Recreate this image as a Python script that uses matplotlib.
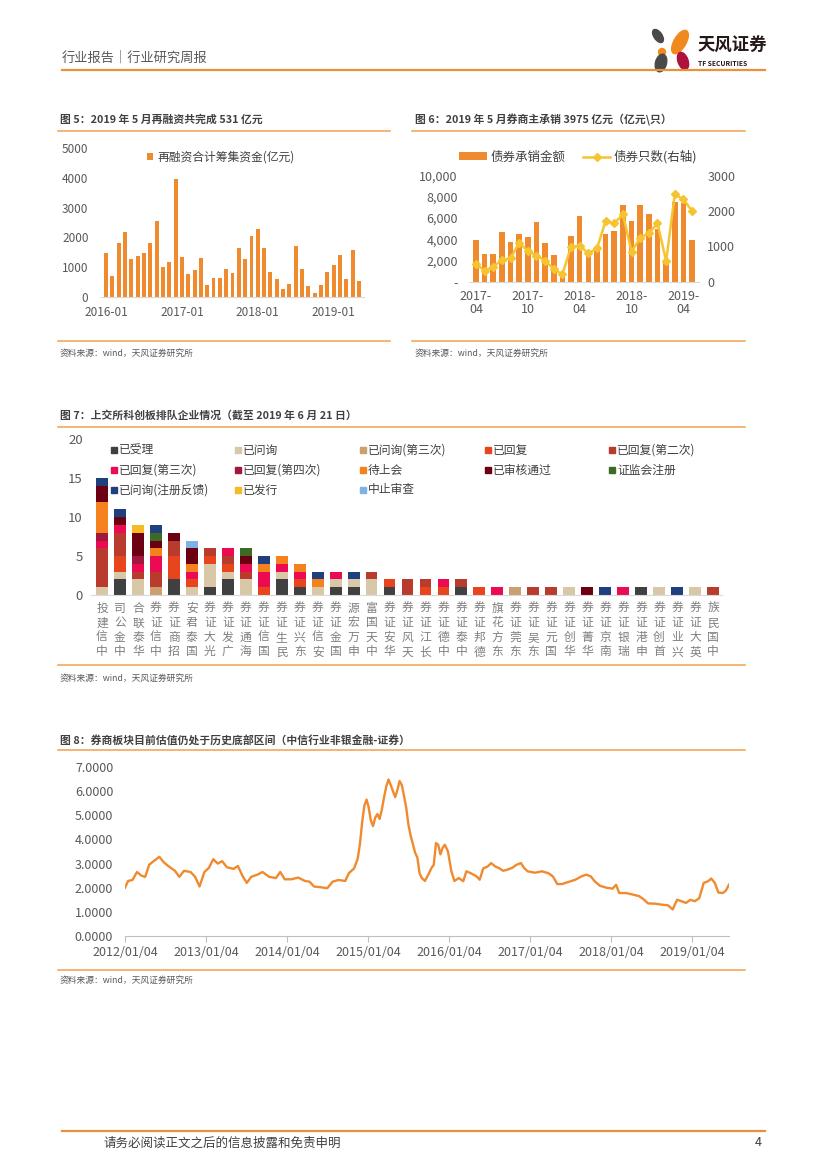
import numpy as np
import pandas as pd
import matplotlib
matplotlib.use('Agg')
import matplotlib.pyplot as plt
from matplotlib.patches import Ellipse, Rectangle

plt.rcParams['font.family'] = ['Noto Sans CJK SC', 'DejaVu Sans']
plt.rcParams['axes.unicode_minus'] = False

W, H = 827, 1170
ORANGE = '#F08A2E'
RULE = '#F0A04E'
GRAY = '#595959'
DARK = '#404040'

# 图5 再融资 (亿元), 2016-01 ~ 2019-05
refi_months = [f'{y}-{m:02d}' for y in range(2016, 2020) for m in range(1, 13)][:41]
refi_values = [1480, 720, 1800, 2170, 1270, 1380, 1480, 1800, 2560, 1000, 1180, 3970,
               1340, 790, 920, 1310, 400, 650, 650, 960, 820, 1650, 1270, 2040,
               2280, 1650, 850, 610, 290, 430, 1720, 960, 370, 160, 400, 860,
               1090, 1410, 610, 1590, 531]

# 图6 券商主承销, 2017-04 ~ 2019-05
uw_months = [f'{y}-{m:02d}' for y in range(2017, 2020) for m in range(1, 13)][3:29]
uw_amount = [3960, 2610, 2610, 4690, 3770, 4470, 4180, 5630, 3680, 2520, 500, 4340,
             6230, 2600, 3000, 4470, 4780, 7230, 5720, 7230, 6350, 4970, 2000, 7550,
             7390, 3975]
uw_count = [500, 310, 425, 613, 660, 1104, 868, 736, 594, 358, 208, 991,
            1019, 802, 943, 1717, 1651, 1906, 849, 1245, 1368, 1651, 585, 2472,
            2330, 2000]

# 图7 科创板排队
brokers = ['中信建投', '中金公司', '华泰联合', '中信证券', '招商证券', '国泰君安', '光大证券',
           '广发证券', '海通证券', '国信证券', '民生证券', '东兴证券', '安信证券', '国金证券',
           '申万宏源', '中天国富', '华安证券', '天风证券', '长江证券', '中德证券', '中泰证券',
           '德邦证券', '东方花旗', '东莞证券', '东吴证券', '国元证券', '华创证券', '华菁证券',
           '南京证券', '瑞银证券', '申港证券', '首创证券', '兴业证券', '英大证券', '中国民族']
status_names = ['已受理', '已问询', '已问询(第三次)', '已回复', '已回复(第二次)',
                '已回复(第三次)', '已回复(第四次)', '待上会', '已审核通过', '证监会注册',
                '已问询(注册反馈)', '已发行', '中止审查']
status_colors = ['#404040', '#D9C8A8', '#C9A06E', '#E8441E', '#B83B2E',
                 '#EC0B53', '#A3173F', '#F5821F', '#6B0012', '#3D6B25',
                 '#1F3F7F', '#F5BA24', '#7FB2E5']
status_counts = {
    '已受理': {1: 2, 4: 2, 6: 1, 7: 2, 10: 2, 11: 1, 13: 1, 14: 1, 16: 1, 20: 1, 30: 1},
    '已问询': {0: 1, 1: 1, 2: 2, 5: 1, 6: 3, 7: 1, 8: 2, 10: 1, 12: 1, 13: 1, 14: 1, 15: 2,
            26: 1, 31: 1, 33: 1},
    '已问询(第三次)': {3: 1, 23: 1},
    '已回复': {1: 2, 4: 3, 5: 1, 6: 1, 7: 1, 9: 1, 11: 1, 16: 1, 18: 1, 19: 1, 21: 1},
    '已回复(第二次)': {0: 5, 1: 3, 2: 1, 3: 2, 4: 2, 6: 1, 7: 1, 8: 1, 15: 1, 17: 2, 18: 1,
                  20: 1, 24: 1, 25: 1, 34: 1},
    '已回复(第三次)': {0: 1, 1: 1, 2: 1, 3: 2, 5: 1, 7: 1, 8: 1, 9: 2, 10: 1, 11: 1, 13: 1,
                  19: 1, 22: 1, 29: 1},
    '已回复(第四次)': {0: 1, 2: 1},
    '待上会': {0: 4, 3: 1, 5: 1, 9: 1, 10: 1, 11: 1, 12: 1},
    '已审核通过': {0: 2, 1: 1, 2: 3, 3: 1, 4: 1, 5: 2, 8: 1, 27: 1},
    '证监会注册': {3: 1, 8: 1},
    '已问询(注册反馈)': {0: 1, 1: 1, 3: 1, 9: 1, 12: 1, 14: 1, 28: 1, 32: 1},
    '已发行': {2: 1},
    '中止审查': {5: 1},
}

# 图8 券商板块PB
pb_dates = ['2012-01-04', '2012-01-18', '2012-02-07', '2012-02-27', '2012-03-18', '2012-04-04',
            '2012-04-22', '2012-05-12', '2012-06-07', '2012-06-27', '2012-07-17', '2012-08-16',
            '2012-09-05', '2012-09-26', '2012-10-26', '2012-11-15', '2012-12-05', '2012-12-27',
            '2013-01-16', '2013-02-05', '2013-02-25', '2013-03-17', '2013-04-07', '2013-05-07',
            '2013-05-27', '2013-06-16', '2013-07-06', '2013-07-26', '2013-08-25', '2013-09-15',
            '2013-10-15', '2013-11-14', '2013-12-04', '2013-12-24', '2014-01-24', '2014-02-23',
            '2014-03-25', '2014-04-15', '2014-05-05', '2014-06-04', '2014-07-04', '2014-07-28',
            '2014-08-23', '2014-09-23', '2014-10-09', '2014-11-02', '2014-11-18', '2014-11-28',
            '2014-12-08', '2014-12-18', '2014-12-28', '2015-01-06', '2015-01-16', '2015-01-26',
            '2015-02-05', '2015-02-15', '2015-02-25', '2015-03-07', '2015-03-17', '2015-03-27',
            '2015-04-06', '2015-04-16', '2015-04-26', '2015-05-06', '2015-05-16', '2015-05-26',
            '2015-06-05', '2015-06-15', '2015-06-25', '2015-07-05', '2015-07-15', '2015-07-25',
            '2015-08-04', '2015-08-14', '2015-08-24', '2015-09-03', '2015-09-17', '2015-10-03',
            '2015-10-17', '2015-10-27', '2015-11-06', '2015-11-16', '2015-11-26', '2015-12-06',
            '2015-12-16', '2015-12-30', '2016-01-14', '2016-01-28', '2016-02-17', '2016-03-08',
            '2016-03-22', '2016-04-11', '2016-05-07', '2016-05-21', '2016-06-06', '2016-06-26',
            '2016-07-12', '2016-07-30', '2016-08-15', '2016-09-04', '2016-09-24', '2016-10-14',
            '2016-11-03', '2016-11-23', '2016-12-07', '2016-12-23', '2017-01-26', '2017-02-25',
            '2017-03-27', '2017-04-16', '2017-05-06', '2017-05-26', '2017-06-26', '2017-07-26',
            '2017-08-25', '2017-09-14', '2017-10-04', '2017-10-20', '2017-11-14', '2017-12-14',
            '2018-01-10', '2018-01-26', '2018-02-09', '2018-03-11', '2018-04-10', '2018-05-10',
            '2018-05-30', '2018-06-19', '2018-07-19', '2018-08-18', '2018-09-17', '2018-10-08',
            '2018-10-28', '2018-11-17', '2018-12-07', '2018-12-27', '2019-01-16', '2019-02-05',
            '2019-02-25', '2019-03-17', '2019-03-31', '2019-04-16', '2019-05-02', '2019-05-22',
            '2019-06-05', '2019-06-19']
pb_values = [2.00, 2.28, 2.32, 2.65, 2.50, 2.45,
             2.95, 3.10, 3.28, 3.05, 2.90, 2.70,
             2.45, 2.70, 2.65, 2.45, 2.05, 2.65,
             2.82, 3.18, 3.00, 3.10, 2.85, 2.78,
             2.90, 2.50, 2.20, 2.45, 2.55, 2.65,
             2.45, 2.40, 2.65, 2.35, 2.35, 2.42,
             2.28, 2.25, 2.05, 2.02, 1.98, 2.25,
             2.32, 2.28, 2.60, 2.80, 3.20, 3.80,
             4.70, 5.40, 5.65, 5.35, 4.80, 4.55,
             4.90, 5.05, 4.85, 5.25, 5.75, 6.20,
             6.48, 6.25, 6.00, 5.75, 6.05, 6.42,
             6.25, 5.80, 5.30, 4.60, 4.15, 3.80,
             3.45, 3.25, 2.60, 2.40, 2.28, 2.55,
             2.82, 2.95, 3.85, 3.78, 3.38, 3.65,
             3.78, 3.50, 2.70, 2.28, 2.40, 2.27,
             2.68, 2.60, 2.47, 2.33, 2.80, 2.88,
             3.02, 2.88, 2.82, 2.70, 2.75, 2.82,
             2.95, 3.02, 2.82, 2.68, 2.62, 2.68,
             2.60, 2.47, 2.15, 2.15, 2.24, 2.33,
             2.48, 2.54, 2.47, 2.28, 2.08, 2.00,
             1.96, 2.12, 1.78, 1.78, 1.72, 1.65,
             1.52, 1.35, 1.34, 1.30, 1.27, 1.10,
             1.50, 1.44, 1.37, 1.50, 1.44, 1.57,
             2.20, 2.27, 2.38, 2.20, 1.80, 1.78,
             1.88, 2.13]

fig = plt.figure(figsize=(W / 100, H / 100), dpi=100)


def add_ax(x0, y0, x1, y1):
    return fig.add_axes([x0 / W, 1 - y1 / H, (x1 - x0) / W, (y1 - y0) / H])


def clean(ax, pad_y, pad_x):
    for s in ['top', 'right', 'left']:
        ax.spines[s].set_visible(False)
    ax.spines['bottom'].set_color('#D9D9D9')
    ax.tick_params(axis='y', length=0, pad=pad_y, labelcolor=GRAY)
    ax.tick_params(axis='x', length=0, pad=pad_x, labelcolor=GRAY)


# ---- 图5
ax5 = add_ax(101, 147.7, 364, 297.3)
ax5.bar(range(len(refi_values)), refi_values, width=0.62, color=ORANGE, label='再融资合计筹集资金(亿元)')
ax5.set_xlim(-0.8, 40.8)
ax5.set_ylim(0, 5000)
ax5.set_yticks(range(0, 5001, 1000))
t5 = [i for i, m in enumerate(refi_months) if m.endswith('-01')]
ax5.set_xticks(t5, [refi_months[i] for i in t5])
clean(ax5, 9, 6.5)
ax5.tick_params(labelsize=8.5)
ax5.legend(loc='center left', bbox_to_anchor=(147 / W, 1 - 157 / H), bbox_transform=fig.transFigure,
           frameon=False, handlelength=0.55, handleheight=0.55, handletextpad=0.3, fontsize=8.5,
           borderaxespad=0, borderpad=0, labelcolor=DARK)

# ---- 图6
ax6 = add_ax(469, 175.7, 699, 281.7)
xs = np.arange(len(uw_amount))
b6 = ax6.bar(xs, uw_amount, width=0.64, color=ORANGE, label='债券承销金额')
ax6.set_xlim(-0.8, 25.8)
ax6.set_ylim(0, 10000)
ax6.set_yticks(range(0, 10001, 2000), ['-'] + [f'{v:,}' for v in range(2000, 10001, 2000)])
t6 = [i for i, m in enumerate(uw_months) if m[5:] in ('04', '10')]
ax6.set_xticks(t6, [uw_months[i][:5] + '\n' + uw_months[i][5:] for i in t6])
clean(ax6, 8, 6)
ax6.tick_params(labelsize=9)
for lab in ax6.get_xticklabels():
    lab.set_linespacing(1.0)
ax6b = ax6.twinx()
l6, = ax6b.plot(xs, uw_count, color='#F7C431', marker='D', markersize=4.2, lw=1.8, label='债券只数(右轴)')
ax6b.set_ylim(0, 3000)
ax6b.set_yticks(range(0, 3001, 1000))
for s in ['top', 'right', 'left', 'bottom']:
    ax6b.spines[s].set_visible(False)
ax6b.tick_params(axis='y', length=0, pad=6, labelcolor=GRAY, labelsize=9)
ax6.legend(handles=[b6, l6], loc='center left', bbox_to_anchor=(459 / W, 1 - 157 / H),
           bbox_transform=fig.transFigure, ncol=2, frameon=False, handlelength=2.2,
           handleheight=0.6, handletextpad=0.3, columnspacing=1.4, fontsize=9,
           borderaxespad=0, borderpad=0, labelcolor=DARK)

# ---- 图7
ax7 = add_ax(91.2, 439.3, 722, 595)
x7 = np.arange(len(brokers))
bottom = np.zeros(len(brokers))
for name, col in zip(status_names, status_colors):
    vals = np.array([status_counts[name].get(i, 0) for i in range(len(brokers))], dtype=float)
    ax7.bar(x7, vals, bottom=bottom, width=0.66, color=col, label=name)
    bottom += vals
ax7.set_xlim(-0.6, 34.5)
ax7.set_ylim(0, 20)
ax7.set_yticks(range(0, 21, 5))
# 竖排标签：自下而上
ax7.set_xticks(x7, ['\n'.join(reversed(b)) for b in brokers])
clean(ax7, 6, 5)
ax7.tick_params(axis='y', labelsize=9.5)
ax7.tick_params(axis='x', labelsize=8.5, labelcolor='#7F7F7F')
for lab in ax7.get_xticklabels():
    lab.set_linespacing(1.15)
    lab.set_verticalalignment('top')

# ---- 图8
ax8 = add_ax(125, 767, 729, 936)
ax8.plot(pd.to_datetime(pb_dates), pb_values, color=ORANGE, lw=1.7)
ax8.set_xlim(pd.Timestamp('2012-01-04'), pd.Timestamp('2019-06-19'))
ax8.set_ylim(0, 7)
ax8.set_yticks(range(0, 8), [f'{v:.4f}' for v in range(0, 8)])
yt = pd.to_datetime([f'{y}-01-04' for y in range(2012, 2020)])
ax8.set_xticks(yt, [d.strftime('%Y/%m/%d') for d in yt])
clean(ax8, 8.5, 5)
ax8.spines['bottom'].set_color('#BFBFBF')
ax8.tick_params(axis='x', length=4, direction='out', color='#BFBFBF', pad=3)
ax8.tick_params(labelsize=9)

# ---- 页面元素
ov = fig.add_axes([0, 0, 1, 1])
ov.set_xlim(0, W)
ov.set_ylim(H, 0)
ov.axis('off')
ov.set_zorder(10)

ov.text(62, 58, '行业报告｜行业研究周报', fontsize=9.5, color=GRAY, va='center')
ov.plot([62, 765], [70, 70], color='#E8913A', lw=1.6)
ov.plot([62, 765], [1131, 1131], color='#E8913A', lw=1.6)
ov.text(104, 1143, '请务必阅读正文之后的信息披露和免责申明', fontsize=9, color=DARK, va='center')
ov.text(762, 1143, '4', fontsize=9, color=DARK, va='center', ha='right')

# logo
ov.add_patch(Ellipse((658, 36), 8, 15, angle=-35, color='#4A4A4A'))
ov.add_patch(Ellipse((680, 42), 12, 26, angle=30, color='#F08A1E'))
ov.add_patch(Ellipse((662, 52), 7, 7, color='#F08A1E'))
ov.add_patch(Ellipse((683, 61), 10, 18, angle=-20, color='#B0123E'))
ov.add_patch(Ellipse((661, 63), 11, 18, angle=15, color='#4A4A4A'))
ov.text(697, 46, '天风证券', fontsize=12.5, weight='bold', color='#231815', va='center')
ov.text(698, 63, 'TF SECURITIES', fontsize=4.8, weight='bold', color='#231815', va='center')

titles = [(60, 120, '图 5：2019 年 5 月再融资共完成 531 亿元'),
          (415, 120, '图 6：2019 年 5 月券商主承销 3975 亿元（亿元\\只）'),
          (60, 415, '图 7：上交所科创板排队企业情况（截至 2019 年 6 月 21 日）'),
          (60, 740, '图 8：券商板块目前估值仍处于历史底部区间（中信行业非银金融-证券）')]
for x, y, t in titles:
    ov.text(x, y, t, fontsize=7.8, weight='bold', color=DARK, va='center')

rules = [(58, 390, 130.7), (412, 745, 130.7), (58, 390, 341), (412, 745, 341),
         (58, 745, 427), (58, 745, 665), (58, 745, 750), (58, 745, 970)]
for x0, x1, y in rules:
    ov.plot([x0, x1], [y, y], color=RULE, lw=1.1)

src = '资料来源：wind，天风证券研究所'
for x, y in [(60, 353), (415, 353), (60, 678), (60, 980)]:
    ov.text(x, y, src, fontsize=6.3, color=GRAY, va='center')

# 图7 图例
col_x = [114, 238, 363, 488, 612]
row_y = [450, 470, 490]
for i, (name, col) in enumerate(zip(status_names, status_colors)):
    cx, cy = col_x[i % 5], row_y[i // 5]
    ov.add_patch(Rectangle((cx - 3, cy - 3), 6, 6, color=col))
    ov.text(cx + 5, cy, name, fontsize=8.5, color=DARK, va='center')

fig.savefig('out.png', dpi=100)
